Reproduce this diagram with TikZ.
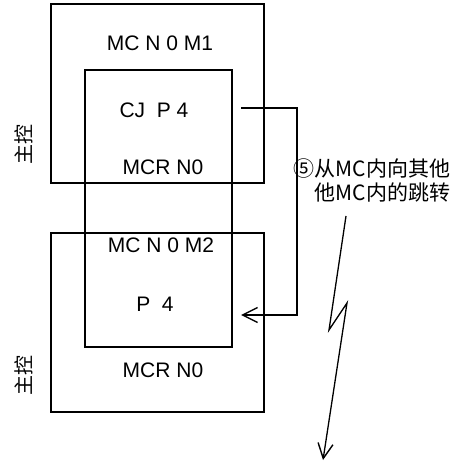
\documentclass[tikz,border=0pt]{standalone}
\usepackage{fontspec}
\setmainfont{Liberation Sans}
\newfontfamily\cjk{Noto Sans CJK SC}
\usetikzlibrary{arrows.meta}

\begin{document}
\begin{tikzpicture}[x=1pt, y=-1pt, line width=1.5pt,
        frame/.style={draw, inner sep=0pt, minimum width=#1},
        lbl/.style={font=\fontsize{21}{23}\selectfont, inner sep=0pt},
        side/.style={font=\cjk\fontsize{20}{22}\selectfont, rotate=90, inner sep=0pt},
        jump/.style={-{Straight Barb[length=15pt, width=15pt, line width=1.4pt]}}]
    \useasboundingbox (0,0) rectangle (466,465);

    % outer and inner boxes
    \node[frame=213pt, minimum height=179pt] (top) at (157.5,93.5) {};
    \node[frame=213pt, minimum height=179pt] (bottom) at (157.5,322.5) {};
    \node[frame=147pt, minimum height=277pt] (inner) at (158.5,208.5) {};

    \node[lbl] (mc1) at (160,43) {MC N 0 M1};
    \node[lbl] (cjp) at (154,110) {CJ\ \ P 4};
    \node[lbl] (mcr1) at (163,167) {MCR N0};
    \node[lbl] (mc2) at (161,245) {MC N 0 M2};
    \node[lbl] (p4) at (155,304) {P\ \ 4};
    \node[lbl] (mcr2) at (163,370) {MCR N0};

    \node[side] (ctl1) at (24,145) {主控};
    \node[side] (ctl2) at (24,375) {主控};

    % jump from CJ P4 to P4
    \coordinate (jfrom) at (241,108);
    \coordinate (jright) at (297,210);
    \coordinate (jto) at (241,315);
    \draw[jump] (jfrom) -- (jfrom -| jright) |- (jto);

    \node[font=\cjk\fontsize{21}{24}\selectfont, align=right, inner sep=0pt, anchor=east] (note) at (451,180) {⑤从MC内向其他\\他MC内的跳转};

    % lightning
    \coordinate (z1) at (346,216);
    \coordinate (z2) at (329,330);
    \coordinate (z3) at (347,303);
    \coordinate (z4) at (323,460);
    \draw[jump, line width=1.3pt] (z1) -- (z2) -- (z3) -- (z4);
\end{tikzpicture}
\end{document}
